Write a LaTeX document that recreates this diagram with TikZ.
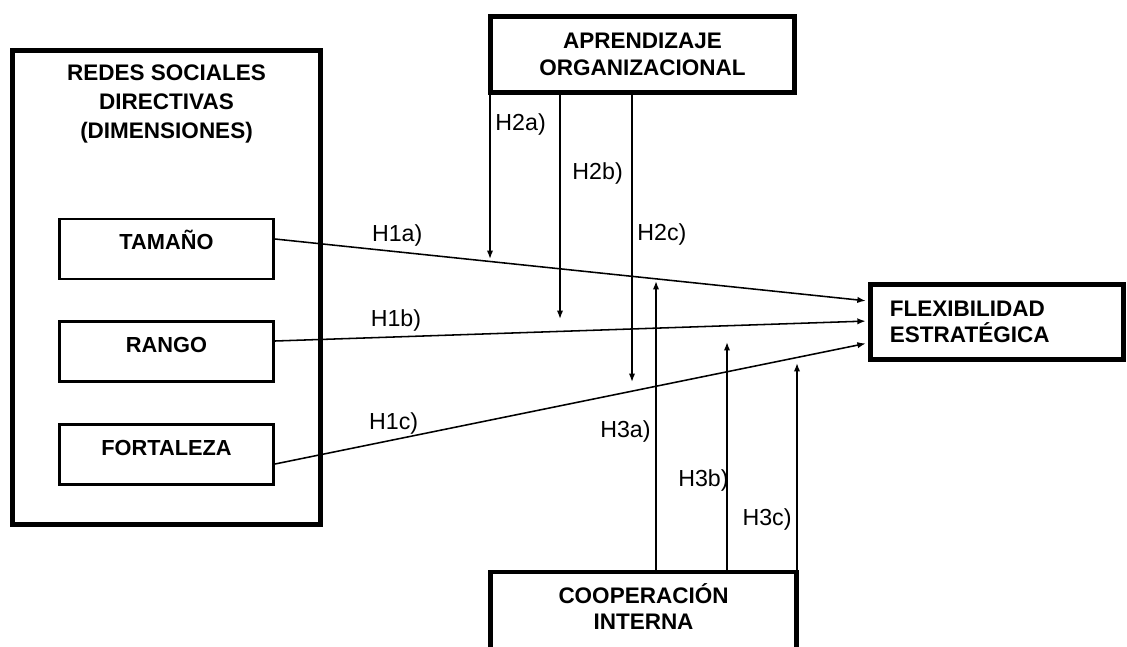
\documentclass[tikz,border=0pt]{standalone}
\usepackage{fontspec}
\setmainfont{Liberation Sans}
\usetikzlibrary{arrows.meta,positioning,calc}

\begin{document}
\begin{tikzpicture}[
    x=0.025cm,y=-0.025cm,
    marco/.style={draw,line width=3.5pt,inner sep=0pt},
    dimbox/.style={draw,line width=1.8pt,minimum width=5.36cm,minimum height=1.5cm,font=\fontsize{15.5}{19}\selectfont\bfseries,text height=11.4pt,text depth=10pt},
    titulo/.style={align=center,font=\fontsize{16}{19}\selectfont\bfseries},
    hyp/.style={-{Latex[length=6pt,width=4.5pt]},line width=1.1pt},
    lbl/.style={font=\fontsize{16.5}{19}\selectfont}
    ]
    \clip (0,0) rectangle (1127,646);
    % bloque de la izquierda
    \node[marco,minimum width=7.7cm,minimum height=11.85cm] (redes) at (166.5,287.5) {};
    \node[titulo,font=\fontsize{16}{20.6}\selectfont\bfseries] (redestit) at (166.5,104) {REDES SOCIALES\\DIRECTIVAS\\(DIMENSIONES)};
    \node[dimbox] (tam) at (166.5,249) {TAMAÑO};
    \node[dimbox] (ran) at (166.5,351.5) {RANGO};
    \node[dimbox] (fort) at (166.5,454.5) {FORTALEZA};
    % moderadores y dependiente
    \node[marco,titulo,minimum width=7.6cm,minimum height=1.9cm] (apr) at (642.5,54.5) {APRENDIZAJE\\ORGANIZACIONAL};
    \node[marco,minimum width=7.65cm,minimum height=2.5cm,anchor=north] (coop) at (643.5,569.5) {};
    \node[titulo] (cooptxt) at (643.5,606.5) {COOPERACIÓN\\INTERNA};
    \node[marco,titulo,align=left,text width=5.35cm,inner xsep=0.4875cm,minimum height=1.875cm] (flex) at (997,322) {FLEXIBILIDAD\\ESTRATÉGICA};
    % H1
    \draw[hyp,shorten >=1.6pt] ($(tam.east)+(0,-10)$) -- node(h1a)[lbl,pos=0.206,above]{H1a)} ($(flex.west)+(0,-21)$);
    \draw[hyp,shorten >=1.6pt] ($(ran.east)+(0,-10.5)$) -- node(h1b)[lbl,pos=0.204,above]{H1b)} ($(flex.west)+(0,-1)$);
    \draw[hyp,shorten >=1.6pt] ($(fort.east)+(0,9.5)$) -- node(h1c)[lbl,pos=0.2,above]{H1c)} ($(flex.west)+(0,21)$);
    % H2
    \coordinate (t2a) at (490,259);
    \coordinate (t2b) at (560,319);
    \coordinate (t2c) at (632,382);
    \draw[hyp] (t2a |- apr.south) -- node(h2a)[lbl,pos=0.183,right]{H2a)} (t2a);
    \draw[hyp] (t2b |- apr.south) -- node(h2b)[lbl,pos=0.351,right,xshift=5pt]{H2b)} (t2b);
    \draw[hyp] (t2c |- apr.south) -- node(h2c)[lbl,pos=0.485,right]{H2c)} (t2c);
    % H3
    \coordinate (t3a) at (656,281);
    \coordinate (t3b) at (727,342);
    \coordinate (t3c) at (797,363);
    \draw[hyp] (t3a |- coop.north) -- node(h3a)[lbl,pos=0.477,left]{H3a)} (t3a);
    \draw[hyp] (t3b |- coop.north) -- node(h3b)[lbl,pos=0.393,left,xshift=5pt]{H3b)} (t3b);
    \draw[hyp] (t3c |- coop.north) -- node(h3c)[lbl,pos=0.24,left]{H3c)} (t3c);
\end{tikzpicture}
\end{document}
